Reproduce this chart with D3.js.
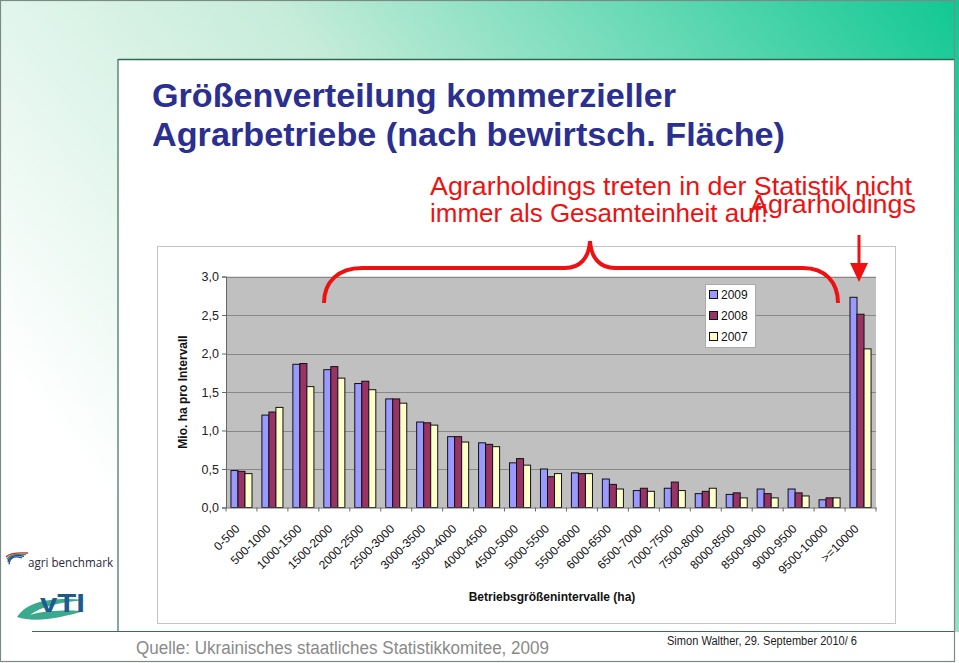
<!DOCTYPE html>
<html><head><meta charset="utf-8">
<script src="https://cdn.jsdelivr.net/npm/d3@7"></script>
<style>
html,body{margin:0;padding:0;background:#fff;}
svg{display:block;font-family:"Liberation Sans",Arial,sans-serif;}
</style></head>
<body>
<script>
const categories = ["0-500","500-1000","1000-1500","1500-2000","2000-2500","2500-3000","3000-3500","3500-4000","4000-4500","4500-5000","5000-5500","5500-6000","6000-6500","6500-7000","7000-7500","7500-8000","8000-8500","8500-9000","9000-9500","9500-10000",">=10000"];
const seriesNames = ["2009","2008","2007"];
const values2009 = [0.48,1.20,1.86,1.79,1.61,1.41,1.11,0.92,0.84,0.58,0.50,0.45,0.37,0.22,0.25,0.18,0.17,0.24,0.24,0.10,2.73];
const values2008 = [0.47,1.24,1.87,1.83,1.64,1.41,1.10,0.92,0.82,0.635,0.40,0.44,0.30,0.25,0.33,0.21,0.19,0.18,0.19,0.125,2.51];
const values2007 = [0.44,1.30,1.57,1.68,1.53,1.355,1.07,0.85,0.79,0.55,0.44,0.44,0.24,0.21,0.22,0.25,0.125,0.125,0.15,0.125,2.06];
const yTicks = [0,0.5,1,1.5,2,2.5,3];
const colors = ["#9999ff","#993366","#ffffcc"];

const W=959,H=663;
const svg = d3.select("body").append("svg").attr("width",W).attr("height",H);
const defs = svg.append("defs");
const g1 = defs.append("linearGradient").attr("id","bg").attr("x1","1").attr("y1","0").attr("x2","0").attr("y2","0.55");
g1.append("stop").attr("offset","0").attr("stop-color","#10c893");
g1.append("stop").attr("offset","0.55").attr("stop-color","#c6ecda");
g1.append("stop").attr("offset","1").attr("stop-color","#ffffff");
svg.append("rect").attr("width",W).attr("height",H).attr("fill","url(#bg)");
// footer white
svg.append("rect").attr("x",0).attr("y",632).attr("width",W).attr("height",31).attr("fill","#fff");
svg.append("rect").attr("x",0).attr("y",520).attr("width",118).attr("height",112).attr("fill","#fff");
// content panel
svg.append("rect").attr("x",118).attr("y",59).attr("width",836).attr("height",573).attr("fill","#fff");
svg.append("line").attr("x1",118).attr("x2",954).attr("y1",59.5).attr("y2",59.5).attr("stroke","#2a6b50").attr("stroke-width",1.5);
svg.append("line").attr("x1",118).attr("x2",118).attr("y1",59).attr("y2",632).attr("stroke","#3d6b5a").attr("stroke-width",1.2);
svg.append("line").attr("x1",32).attr("x2",954).attr("y1",631.5).attr("y2",631.5).attr("stroke","#3d6b5a").attr("stroke-width",1.2);
svg.append("rect").attr("x",0.5).attr("y",0.5).attr("width",954).attr("height",661).attr("fill","none").attr("stroke","#7a8a84").attr("stroke-width",1.2);

// title
svg.append("text").attr("x",152).attr("y",107).attr("fill","#2b2f8f").attr("font-weight","bold").attr("font-size",33).attr("textLength",524).attr("lengthAdjust","spacingAndGlyphs").text("Größenverteilung kommerzieller");
svg.append("text").attr("x",152).attr("y",146).attr("fill","#2b2f8f").attr("font-weight","bold").attr("font-size",33).attr("textLength",633).attr("lengthAdjust","spacingAndGlyphs").text("Agrarbetriebe (nach bewirtsch. Fläche)");

// chart box
svg.append("rect").attr("x",157.5).attr("y",246.5).attr("width",738).attr("height",377).attr("fill","#fff").attr("stroke","#c4c4c4");

const x0 = d3.scaleBand().domain(categories).range([226,876]);
const x1 = d3.scaleBand().domain(seriesNames).range([0,x0.bandwidth()*0.68]);
const y = d3.scaleLinear().domain([0,3]).range([507.5,276.5]);

svg.append("rect").attr("x",226).attr("y",y(3)).attr("width",650).attr("height",y(0)-y(3)).attr("fill","#c0c0c0");
svg.append("g").selectAll("line").data(yTicks.filter(d=>d>0)).join("line")
 .attr("x1",226).attr("x2",876).attr("y1",d=>Math.round(y(d))+0.5).attr("y2",d=>Math.round(y(d))+0.5).attr("stroke","#888");

const table = categories.map((c,i)=>({cat:c, vals:[values2009[i],values2008[i],values2007[i]]}));
const grp = svg.append("g").selectAll("g").data(table).join("g")
 .attr("transform",d=>`translate(${x0(d.cat)+x0.bandwidth()*0.16},0)`);
grp.selectAll("rect").data(d=>d.vals.map((v,j)=>({s:seriesNames[j],v,j}))).join("rect")
 .attr("x",d=>x1(d.s)).attr("width",x1.bandwidth()).attr("y",d=>y(d.v)).attr("height",d=>y(0)-y(d.v))
 .attr("fill",d=>colors[d.j]).attr("stroke","#111").attr("stroke-width",1);

// axes
const yAxis = d3.axisLeft(y).tickValues(yTicks).tickSize(4).tickFormat(d=>d3.format(".1f")(d).replace(".",","));
const ya = svg.append("g").attr("transform","translate(226,0)").call(yAxis);
ya.select(".domain").attr("stroke","#666");
ya.selectAll(".tick line").attr("stroke","#666");
ya.selectAll("text").attr("font-size",12.5).attr("fill","#222").attr("x",-7).attr("font-family","Liberation Sans, Arial");

const xAxis = d3.axisBottom(x0).tickSize(0).tickSizeOuter(0);
const xa = svg.append("g").attr("transform",`translate(0,${y(0)})`).call(xAxis);
xa.select(".domain").attr("stroke","#666");
xa.selectAll(".tick text").attr("font-size",12).attr("fill","#111").attr("font-family","Liberation Sans, Arial")
 .attr("text-anchor","end").attr("transform","translate(-4,19) rotate(-45)").attr("dy","0.35em").attr("y",0).attr("x",0);
svg.append("g").selectAll("line").data(categories.concat(["_end"])).join("line")
 .attr("x1",(d,i)=>226+i*x0.step()).attr("x2",(d,i)=>226+i*x0.step()).attr("y1",y(0)).attr("y2",y(0)+4).attr("stroke","#666");

svg.append("text").attr("transform","translate(187,392) rotate(-90)").attr("text-anchor","middle").attr("font-size",12).attr("font-weight","bold").attr("fill","#111").text("Mio. ha pro Intervall");
svg.append("text").attr("x",552).attr("y",601).attr("text-anchor","middle").attr("font-size",12).attr("font-weight","bold").attr("fill","#111").text("Betriebsgrößenintervalle (ha)");

// legend
const lg = svg.append("g");
lg.append("rect").attr("x",705.5).attr("y",284.5).attr("width",50).attr("height",63).attr("fill","#fff").attr("stroke","#aaa");
seriesNames.forEach((s,i)=>{
  lg.append("rect").attr("x",709.5).attr("y",290.5+i*21).attr("width",8).attr("height",8).attr("fill",colors[i]).attr("stroke","#111");
  lg.append("text").attr("x",721).attr("y",299+i*21).attr("font-size",12).attr("fill","#111").text(s);
});

// annotations
const red="#ee1111";
svg.append("path").attr("d","M324,303 C324,282 338,268 362,268 L565,268 C580,268 589,258 590,241 C591,258 600,268 615,268 L803,268 C825,268 838,282 838,303")
 .attr("fill","none").attr("stroke",red).attr("stroke-width",4).attr("stroke-linecap","butt");
svg.append("line").attr("x1",859).attr("x2",859).attr("y1",235).attr("y2",266).attr("stroke",red).attr("stroke-width",3);
svg.append("path").attr("d","M850,263 L868,263 L859,282 Z").attr("fill",red);
svg.append("text").attr("x",430).attr("y",195).attr("fill",red).attr("font-size",26).attr("textLength",482).attr("lengthAdjust","spacingAndGlyphs").text("Agrarholdings treten in der Statistik nicht");
svg.append("text").attr("x",430).attr("y",222).attr("fill",red).attr("font-size",26).text("immer als Gesamteinheit auf!");
svg.append("text").attr("x",750).attr("y",213).attr("fill",red).attr("font-size",26).attr("textLength",166).attr("lengthAdjust","spacingAndGlyphs").text("Agrarholdings");

// footer
svg.append("text").attr("x",136).attr("y",654).attr("fill","#8a8a8a").attr("font-size",18).attr("textLength",413).attr("lengthAdjust","spacingAndGlyphs").text("Quelle: Ukrainisches staatliches Statistikkomitee, 2009");
svg.append("text").attr("x",667).attr("y",645).attr("fill","#222").attr("font-size",12).attr("textLength",190).attr("lengthAdjust","spacingAndGlyphs").text("Simon Walther, 29. September 2010/ 6");

// logos
const lgA = svg.append("g");
[["#c8302c",0],["#3a9a4a",4],["#2a4aa0",8],["#2a4aa0",12]].forEach(([c,o],i)=>{
  lgA.append("path").attr("d",`M${6+i},${557+o*0.6} Q${10},${552+o*0.2} ${28-i*2},${553+o*0.4}`).attr("fill","none").attr("stroke",c).attr("stroke-width",1.4);
});
lgA.append("text").attr("x",28).attr("y",567).attr("font-size",12).attr("fill","#2a2a3a").attr("textLength",85).attr("lengthAdjust","spacingAndGlyphs").attr("font-family","Open Sans, Liberation Sans").text("agri benchmark");
const lgV = svg.append("g");
lgV.append("path").attr("d","M17,617 C28,600 55,597 85,600 C60,602 40,607 30,615 C45,610 70,610 84,611 C60,618 35,623 17,617 Z").attr("fill","#3aa98e");
lgV.append("text").attr("x",40).attr("y",612).attr("font-size",26).attr("font-weight","bold").attr("fill","#1e5a8c").attr("textLength",45).attr("lengthAdjust","spacingAndGlyphs").text("vTI");
</script>
</body></html>
